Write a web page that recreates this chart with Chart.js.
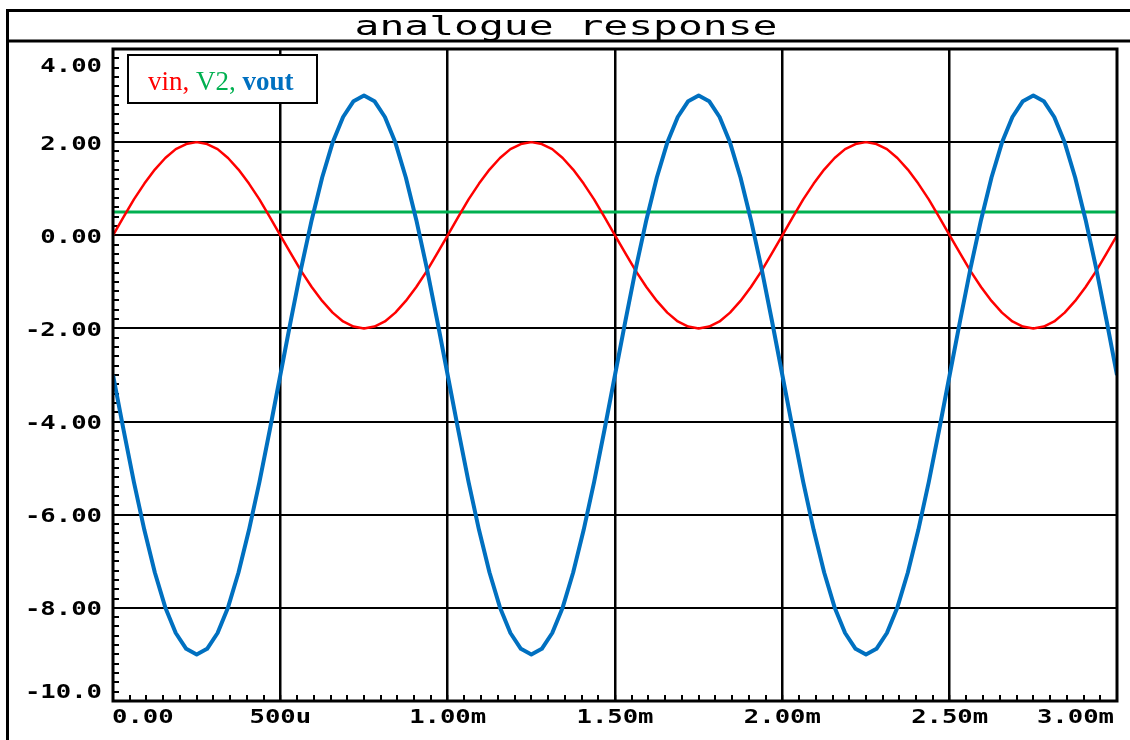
<!DOCTYPE html>
<html>
<head>
<meta charset="utf-8">
<title>analogue response</title>
<script src="https://cdn.jsdelivr.net/npm/chart.js@4.4.1/dist/chart.umd.min.js"></script>
<style>
    html, body { margin: 0; padding: 0; background: #fff; }
    #wrap { width: 1130px; height: 740px; }
</style>
</head>
<body>
<div id="wrap"><canvas id="respChart" width="1130" height="740"></canvas></div>
<script>
// time in ms
const timeMs = [
    0, 0.03125, 0.0625, 0.09375, 0.125, 0.15625, 0.1875, 0.21875, 0.25, 0.28125, 0.3125, 0.34375, 0.375, 0.40625, 0.4375, 0.46875,
    0.5, 0.53125, 0.5625, 0.59375, 0.625, 0.65625, 0.6875, 0.71875, 0.75, 0.78125, 0.8125, 0.84375, 0.875, 0.90625, 0.9375, 0.96875,
    1, 1.03125, 1.0625, 1.09375, 1.125, 1.15625, 1.1875, 1.21875, 1.25, 1.28125, 1.3125, 1.34375, 1.375, 1.40625, 1.4375, 1.46875,
    1.5, 1.53125, 1.5625, 1.59375, 1.625, 1.65625, 1.6875, 1.71875, 1.75, 1.78125, 1.8125, 1.84375, 1.875, 1.90625, 1.9375, 1.96875,
    2, 2.03125, 2.0625, 2.09375, 2.125, 2.15625, 2.1875, 2.21875, 2.25, 2.28125, 2.3125, 2.34375, 2.375, 2.40625, 2.4375, 2.46875,
    2.5, 2.53125, 2.5625, 2.59375, 2.625, 2.65625, 2.6875, 2.71875, 2.75, 2.78125, 2.8125, 2.84375, 2.875, 2.90625, 2.9375, 2.96875,
    3
];

const vin = [
    0, 0.39, 0.77, 1.11, 1.41, 1.66, 1.85, 1.96, 2.00, 1.96, 1.85, 1.66, 1.41, 1.11, 0.77, 0.39,
    0, -0.39, -0.77, -1.11, -1.41, -1.66, -1.85, -1.96, -2.00, -1.96, -1.85, -1.66, -1.41, -1.11, -0.77, -0.39,
    0, 0.39, 0.77, 1.11, 1.41, 1.66, 1.85, 1.96, 2.00, 1.96, 1.85, 1.66, 1.41, 1.11, 0.77, 0.39,
    0, -0.39, -0.77, -1.11, -1.41, -1.66, -1.85, -1.96, -2.00, -1.96, -1.85, -1.66, -1.41, -1.11, -0.77, -0.39,
    0, 0.39, 0.77, 1.11, 1.41, 1.66, 1.85, 1.96, 2.00, 1.96, 1.85, 1.66, 1.41, 1.11, 0.77, 0.39,
    0, -0.39, -0.77, -1.11, -1.41, -1.66, -1.85, -1.96, -2.00, -1.96, -1.85, -1.66, -1.41, -1.11, -0.77, -0.39,
    0
];

const vout = [
    -3.00, -4.17, -5.30, -6.33, -7.24, -7.99, -8.54, -8.88, -9.00, -8.88, -8.54, -7.99, -7.24, -6.33, -5.30, -4.17,
    -3.00, -1.83, -0.70, 0.33, 1.24, 1.99, 2.54, 2.88, 3.00, 2.88, 2.54, 1.99, 1.24, 0.33, -0.70, -1.83,
    -3.00, -4.17, -5.30, -6.33, -7.24, -7.99, -8.54, -8.88, -9.00, -8.88, -8.54, -7.99, -7.24, -6.33, -5.30, -4.17,
    -3.00, -1.83, -0.70, 0.33, 1.24, 1.99, 2.54, 2.88, 3.00, 2.88, 2.54, 1.99, 1.24, 0.33, -0.70, -1.83,
    -3.00, -4.17, -5.30, -6.33, -7.24, -7.99, -8.54, -8.88, -9.00, -8.88, -8.54, -7.99, -7.24, -6.33, -5.30, -4.17,
    -3.00, -1.83, -0.70, 0.33, 1.24, 1.99, 2.54, 2.88, 3.00, 2.88, 2.54, 1.99, 1.24, 0.33, -0.70, -1.83,
    -3.00
];

const v2Time = [0, 3];
const v2 = [0.5, 0.5];

const yTicks = [4, 2, 0, -2, -4, -6, -8, -10];
const yTickLabels = ['4.00', '2.00', '0.00', '-2.00', '-4.00', '-6.00', '-8.00', '-10.0'];
const xTicks = [0, 0.5, 1, 1.5, 2, 2.5, 3];
const xTickLabels = ['0.00', '500u', '1.00m', '1.50m', '2.00m', '2.50m', '3.00m'];

const RED = '#ff0000', GREEN = '#00b050', BLUE = '#0070c0';

function toPoints(xs, ys) {
    let pts = [];
    for (let i = 0; i < xs.length; i++) {
        pts.push({ x: xs[i], y: ys[i] });
    }
    return pts;
}

function isMajor(v, step) {
    let r = v / step;
    return Math.abs(r - Math.round(r)) < 1e-6;
}

function drawStretched(ctx, text, x, y, align, font, sx) {
    ctx.save();
    ctx.font = font;
    ctx.textAlign = align;
    ctx.textBaseline = 'alphabetic';
    ctx.translate(x, y);
    ctx.scale(sx, 1);
    ctx.fillText(text, 0, 0);
    ctx.restore();
}

const framePlugin = {
    id: 'frame',
    beforeDraw(chart) {
        const ctx = chart.ctx;
        ctx.save();
        ctx.fillStyle = '#fff';
        ctx.fillRect(0, 0, chart.width, chart.height);
        ctx.strokeStyle = '#000';
        ctx.lineWidth = 3;
        ctx.beginPath();
        ctx.moveTo(7.5, 740);
        ctx.lineTo(7.5, 10.5);
        ctx.lineTo(1130, 10.5);
        ctx.moveTo(6, 41);
        ctx.lineTo(1130, 41);
        ctx.stroke();

        // title, stretched wide like the plotter font
        ctx.fillStyle = '#000';
        ctx.font = '26px "DejaVu Sans Mono"';
        let w = ctx.measureText('analogue response').width;
        drawStretched(ctx, 'analogue response', 566, 35, 'center', '26px "DejaVu Sans Mono"', 423 / w);
        ctx.restore();
    },
    afterDraw(chart) {
        const ctx = chart.ctx;
        const a = chart.chartArea;
        const xs = chart.scales.x, ys = chart.scales.y;
        ctx.save();

        // plot border
        ctx.strokeStyle = '#000';
        ctx.lineWidth = 3;
        ctx.strokeRect(a.left, a.top, a.right - a.left, a.bottom - a.top);

        // legend box
        ctx.fillStyle = '#fff';
        ctx.fillRect(128, 55, 189, 48);
        ctx.lineWidth = 2;
        ctx.strokeRect(128, 55, 189, 48);

        let lx = 148, ly = 90;
        const parts = [
            { t: 'vin, ', c: RED, f: '27px "Liberation Serif"' },
            { t: 'V2, ', c: GREEN, f: '27px "Liberation Serif"' },
            { t: 'vout', c: BLUE, f: 'bold 27px "Liberation Serif"' }
        ];
        ctx.textBaseline = 'alphabetic';
        ctx.textAlign = 'left';
        for (let p of parts) {
            ctx.font = p.f;
            ctx.fillStyle = p.c;
            ctx.fillText(p.t, lx, ly);
            lx += ctx.measureText(p.t).width;
        }

        // tick labels
        ctx.fillStyle = '#000';
        const tickFont = 'bold 20px "DejaVu Sans Mono"';
        for (let i = 0; i < yTicks.length; i++) {
            let cy = ys.getPixelForValue(yTicks[i]);
            cy = Math.max(a.top + 15.5, Math.min(a.bottom - 10.5, cy));
            drawStretched(ctx, yTickLabels[i], 102, cy + 7.5, 'right', tickFont, 1.28);
        }
        for (let i = 0; i < xTicks.length; i++) {
            let px = xs.getPixelForValue(xTicks[i]);
            let align = 'center';
            if (i === 0) { align = 'left'; px = a.left - 1; }
            if (i === xTicks.length - 1) { align = 'right'; px = a.right - 3; }
            drawStretched(ctx, xTickLabels[i], px, 723, align, tickFont, 1.28);
        }
        ctx.restore();
    }
};

const dataSet = {
    datasets: [{
        label: 'vout',
        data: toPoints(timeMs, vout),
        borderColor: BLUE,
        borderWidth: 4,
        order: 0
    }, {
        label: 'vin',
        data: toPoints(timeMs, vin),
        borderColor: RED,
        borderWidth: 2.5,
        order: 1
    }, {
        label: 'V2',
        data: toPoints(v2Time, v2),
        borderColor: GREEN,
        borderWidth: 3,
        order: 2
    }]
};

const configLine = {
    type: 'line',
    data: dataSet,
    options: {
        responsive: false,
        animation: false,
        layout: { padding: { top: 49, right: 13, left: 0, bottom: 0 } },
        elements: {
            point: { radius: 0 },
            line: { tension: 0, fill: false, borderJoinStyle: 'round' }
        },
        plugins: {
            legend: { display: false },
            title: { display: false },
            tooltip: { enabled: false }
        },
        scales: {
            x: {
                type: 'linear',
                min: 0,
                max: 3,
                ticks: { stepSize: 0.05, display: false },
                border: { display: false },
                grid: {
                    color: '#000',
                    lineWidth: (c) => (isMajor(c.tick.value, 0.5) && c.tick.value > 0 && c.tick.value < 3) ? 2.5 : 0,
                    tickColor: '#000',
                    tickWidth: 2,
                    tickLength: -6
                },
                afterFit(scale) { scale.height = 39; }
            },
            y: {
                min: -10,
                max: 4,
                ticks: { stepSize: 0.2, display: false },
                border: { display: false },
                grid: {
                    color: '#000',
                    lineWidth: (c) => (isMajor(c.tick.value, 2) && c.tick.value > -10 && c.tick.value < 4) ? 2 : 0,
                    tickColor: '#000',
                    tickWidth: 2,
                    tickLength: -6
                },
                afterFit(scale) { scale.width = 113; }
            }
        }
    },
    plugins: [framePlugin]
};

let canvas = document.getElementById('respChart');
const respChart = new Chart(canvas, configLine);
</script>
</body>
</html>
